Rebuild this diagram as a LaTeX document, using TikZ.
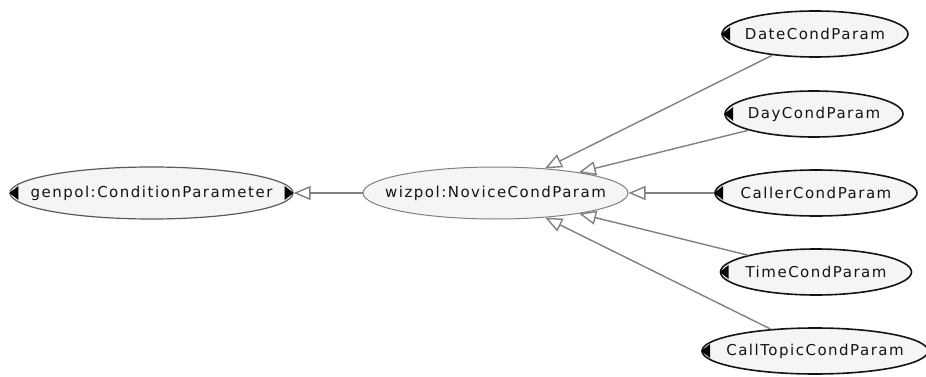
\documentclass[tikz,border=0pt]{standalone}
\usepackage{fontspec}
\setmainfont{DejaVu Sans}[LetterSpace=10]
\usetikzlibrary{arrows.meta,shapes.geometric}
\newcommand\cname[1]{\makebox[0pt]{#1}}
\newcommand\lmark[1]{\fill[black] (#1.west) -- ++(9,-7) -- ++(0,14) -- cycle;}
\newcommand\rmark[1]{\fill[black] (#1.east) -- ++(-9,-7) -- ++(0,14) -- cycle;}
\definecolor{cls_fill}{RGB}{245,245,245}
\definecolor{cls_text}{RGB}{20,20,20}
\definecolor{edge_gray}{RGB}{128,128,128}
\definecolor{node_dark}{RGB}{20,20,20}
\definecolor{node_mid}{RGB}{90,90,90}

\begin{document}
\begin{tikzpicture}[x=1pt,y=-1pt,>={Triangle[open,length=17pt,width=14pt]}]
    \tikzstyle{cls}=[ellipse, fill=cls_fill, text=cls_text, inner sep=0pt, font=\fontsize{15}{17}\selectfont]
    \tikzstyle{leaf}=[style=cls, draw=node_dark, line width=1.6pt, minimum height=46pt]
    \tikzstyle{mid}=[style=cls, draw=edge_gray, line width=1pt, minimum height=52pt]
    \tikzstyle{root}=[style=cls, draw=node_mid, line width=1.2pt, minimum height=52pt]
    \tikzstyle{isa}=[->, draw=edge_gray, line width=1.4pt]

    \useasboundingbox (0,0) rectangle (926,377);

    \node[root, minimum width=283pt] (gen) at (151.5,193) {\cname{genpol:ConditionParameter}};
    \node[mid, minimum width=265pt]  (nov) at (495.5,193) {\cname{wizpol:NoviceCondParam}};

    \node[leaf, minimum width=186pt] (date)  at (815,34)  {\cname{DateCondParam}};
    \node[leaf, minimum width=178pt] (day)   at (814,114) {\cname{DayCondParam}};
    \node[leaf, minimum width=202pt] (call)  at (816,193) {\cname{CallerCondParam}};
    \node[leaf, minimum width=191pt] (time)  at (816,272) {\cname{TimeCondParam}};
    \node[leaf, minimum width=226pt] (topic) at (815,351) {\cname{CallTopicCondParam}};

    \lmark{gen} \rmark{gen}
    \lmark{date} \lmark{day} \lmark{call} \lmark{time} \lmark{topic}

    \path
     (nov)   edge[isa] (gen)
     (date)  edge[isa] (nov)
     (day)   edge[isa] (nov)
     (call)  edge[isa] (nov)
     (time)  edge[isa] (nov)
     (topic) edge[isa] (nov)
     ;
\end{tikzpicture}
\end{document}
